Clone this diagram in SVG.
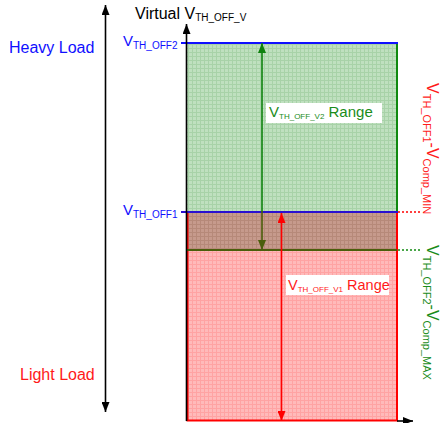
<svg xmlns="http://www.w3.org/2000/svg" width="440" height="423" viewBox="0 0 440 423">
<style>
text{font-family:"Liberation Sans",Arial,sans-serif}
.big{font-size:16px}
.sub{font-size:10px}
.blue{fill:#1010ff}
.red{fill:#ff1a1a}
.green{fill:#1a8c1a}
.blk{fill:#000}
</style>
<defs>
<pattern id="gG" width="4" height="4" patternUnits="userSpaceOnUse"><rect width="4" height="4" fill="#bfe0bf"/><path d="M0,0.5H4M0.5,0V4" stroke="#a8d2a8" stroke-width="1"/></pattern>
<pattern id="gR" width="4" height="4" patternUnits="userSpaceOnUse"><rect width="4" height="4" fill="#ffbaba"/><path d="M0,0.5H4M0.5,0V4" stroke="#ffa3a3" stroke-width="1"/></pattern>
<pattern id="gO" width="4" height="4" patternUnits="userSpaceOnUse"><rect width="4" height="4" fill="#c69a8c"/><path d="M0,0.5H4M0.5,0V4" stroke="#b68979" stroke-width="1"/></pattern>
<marker id="aK" viewBox="0 0 10 8" refX="10" refY="4" markerWidth="10" markerHeight="8" markerUnits="userSpaceOnUse" orient="auto-start-reverse"><path d="M0,0L10,4L0,8z" fill="#000"/></marker>
<marker id="aG" viewBox="0 0 10 8" refX="10" refY="4" markerWidth="10" markerHeight="8" markerUnits="userSpaceOnUse" orient="auto-start-reverse"><path d="M0,0L10,4L0,8z" fill="#0f820f"/></marker>
<marker id="aO" viewBox="0 0 10 8" refX="10" refY="4" markerWidth="10" markerHeight="8" markerUnits="userSpaceOnUse" orient="auto-start-reverse"><path d="M0,0L10,4L0,8z" fill="#4b5e0b"/></marker>
<marker id="aR" viewBox="0 0 10 8" refX="10" refY="4" markerWidth="10" markerHeight="8" markerUnits="userSpaceOnUse" orient="auto-start-reverse"><path d="M0,0L10,4L0,8z" fill="#ff0000"/></marker>
</defs>
<rect width="440" height="423" fill="#fff"/>

<g id="region-heavy">
<rect x="186" y="43" width="211" height="169" fill="url(#gG)"/>
<line x1="397" y1="43" x2="397" y2="212" stroke="#0f8a0f" stroke-width="2"/>
</g>
<g id="region-light">
<rect x="187" y="250" width="210" height="171" fill="url(#gR)"/>
<rect x="187" y="212" width="210" height="38" fill="url(#gO)"/>
<path d="M187.5,212V420.5H397V212" fill="none" stroke="#ff0000" stroke-width="2"/>
<line x1="187" y1="250" x2="397" y2="250" stroke="#4b5e0b" stroke-width="2"/>
</g>
<g id="level-lines">
<line x1="181" y1="43" x2="398" y2="43" stroke="#1010ff" stroke-width="2"/>
<line x1="181" y1="212" x2="398" y2="212" stroke="#2a10d0" stroke-width="2"/>
<line x1="398" y1="212" x2="422" y2="212" stroke="#ff0000" stroke-width="1.5" stroke-dasharray="2,2"/>
<line x1="398" y1="250" x2="422" y2="250" stroke="#0f8a0f" stroke-width="1.5" stroke-dasharray="2,2"/>
</g>

<g id="connectors" fill="none" stroke-width="1.6">
<line x1="105.5" y1="412" x2="105.5" y2="5" stroke="#000" marker-start="url(#aK)" marker-end="url(#aK)"/>
<line x1="186.5" y1="421" x2="186.5" y2="24" stroke="#000" marker-end="url(#aK)"/>
<line x1="397" y1="421" x2="413" y2="421" stroke="#000" marker-end="url(#aK)"/>
<line x1="262" y1="212" x2="262" y2="43" stroke="#0f820f" marker-end="url(#aG)"/>
<line x1="262" y1="211" x2="262" y2="250" stroke="#4b5e0b" marker-end="url(#aO)"/>
<line x1="281.5" y1="213" x2="281.5" y2="421" stroke="#ff0000" marker-start="url(#aR)" marker-end="url(#aR)"/>
</g>

<g id="label-heavy"><text x="9" y="53" class="big blue">Heavy Load</text></g>
<g id="label-light"><text x="20" y="380" class="big red">Light Load</text></g>
<g id="label-axis"><text x="135" y="19" class="big blk">Virtual V<tspan class="sub" dy="2">TH_OFF_V</tspan></text></g>
<g id="label-off2"><text x="123" y="46" class="blue" font-size="15">V<tspan class="sub" dy="2.5">TH_OFF2</tspan></text></g>
<g id="label-off1"><text x="123" y="215" class="blue" font-size="15">V<tspan class="sub" dy="2.5">TH_OFF1</tspan></text></g>
<g id="label-v2-range">
<rect x="266" y="103" width="116" height="20" fill="#fff"/>
<text x="269" y="117" class="green" font-size="15">V<tspan font-size="8" dy="1.5">TH_OFF_V2</tspan><tspan dy="-1.5"> Range</tspan></text>
</g>
<g id="label-v1-range">
<rect x="286" y="275" width="103" height="20" fill="#fff"/>
<text x="288" y="290" class="red" font-size="14.5">V<tspan font-size="8" dy="1.5">TH_OFF_V1</tspan><tspan dy="-1.5"> Range</tspan></text>
</g>
<g id="label-comp-min">
<text transform="translate(427,83) rotate(90)" class="red" font-size="16">V<tspan font-size="11" dy="4">TH_OFF1</tspan><tspan dy="-4">-V</tspan><tspan font-size="11" dy="4">Comp_MIN</tspan></text>
</g>
<g id="label-comp-max">
<text transform="translate(427,245) rotate(90)" class="green" font-size="16">V<tspan font-size="11" dy="4">TH_OFF2</tspan><tspan dy="-4">-V</tspan><tspan font-size="11" dy="4">Comp_MAX</tspan></text>
</g>
</svg>
